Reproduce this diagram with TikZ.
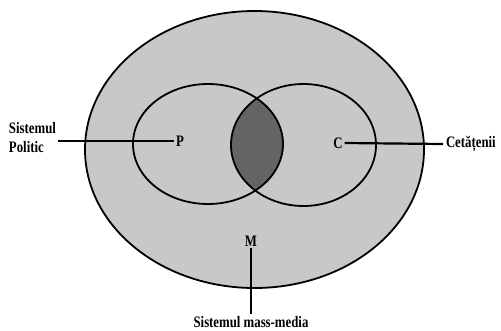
\documentclass[tikz,border=0pt]{standalone}
\usepackage{fontspec}
\setmainfont[FakeStretch=0.8]{Liberation Serif}
\definecolor{outerfill}{RGB}{200,200,200}
\definecolor{lensfill}{RGB}{100,100,100}
\begin{document}
\begin{tikzpicture}[x=1pt,y=-1pt,
  ring/.style={draw=black,line width=1.8pt},
  conn/.style={draw=black,line width=2.2pt},
  lbl/.style={font=\fontsize{16}{19}\selectfont\bfseries,inner sep=0pt,outer sep=2pt}]
\useasboundingbox (0,0) rectangle (501,330);
% outer ellipse
\fill[outerfill] (254.5,149.5) ellipse [x radius=169.5, y radius=138.5];
% lens
\begin{scope}
  \clip (208,144) ellipse [x radius=75, y radius=60];
  \fill[lensfill] (303.5,145) ellipse [x radius=72.5, y radius=61];
\end{scope}
\draw[ring] (254.5,149.5) ellipse [x radius=169.5, y radius=138.5];
\draw[ring] (208,144) ellipse [x radius=75, y radius=60];
\draw[ring] (303.5,145) ellipse [x radius=72.5, y radius=61];
% nodes
\node[lbl] (P) at (180,141) {P};
\node[lbl] (C) at (338,143) {C};
\node[lbl] (M) at (251,241) {M};
\node[lbl,align=left,anchor=west] (spol) at (7,138) {Sistemul\\Politic};
\node[lbl,anchor=west] (cet) at (444,144) {Cetățenii};
\node[lbl] (smm) at (251,322) {Sistemul mass-media};
% connectors
\coordinate (pstart) at (58,141);
\coordinate (cend) at (443,144);
\draw[conn] (pstart) -- (P.west);
\draw[conn] (C.east) -- (cend);
\draw[conn] (M.south) -- (smm.north);
\end{tikzpicture}
\end{document}
